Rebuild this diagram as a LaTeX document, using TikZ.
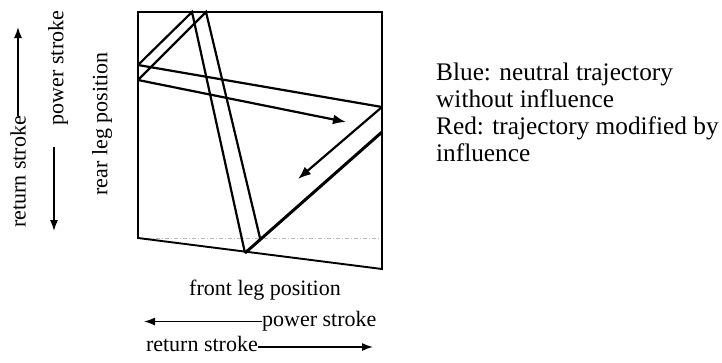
\documentclass[tikz,border=0pt]{standalone}
\usepackage{fontspec}
\setmainfont{Liberation Serif}
\usetikzlibrary{arrows.meta}
\tikzset{
  boxline/.style={line width=1.9pt},
  traj/.style={line width=2.2pt},
  trajthick/.style={line width=3pt},
  trajarrow/.style={line width=2.2pt,-{Latex[length=13pt,width=10pt]}},
  axisarrow/.style={line width=1.4pt,-{Latex[length=11pt,width=8pt]}},
  lbl/.style={inner sep=0pt,font=\fontsize{22}{24}\selectfont},
  legend/.style={inner sep=0pt,anchor=base west,font=\fontsize{25.3}{27}\selectfont},
}
\begin{document}
\begin{tikzpicture}[x=1pt,y=-1pt]
\useasboundingbox (0,0) rectangle (722,362);
% box corners
\coordinate (tl) at (138,12);
\coordinate (tr) at (382,12);
\coordinate (br) at (382,269);
\coordinate (bl) at (138,238);
\coordinate (dr) at (382,238);
% trajectory points
\coordinate (l1) at (138,65);
\coordinate (l2) at (138,80);
\coordinate (t1) at (192,12);
\coordinate (t2) at (206,12);
\coordinate (b1) at (245,253);
\coordinate (b2) at (260,238);
\coordinate (r1) at (382,107);
\coordinate (r2) at (382,132);
\coordinate (a1) at (346,122);
\coordinate (a2) at (298,179);
% faint dotted line
\draw[gray!55,line width=0.8pt,dash pattern=on 4pt off 2pt on 1pt off 2pt] (bl) -- (dr);
% box
\draw[boxline,line join=miter] (bl) -- (tl) -- (tr) -- (br) -- cycle;
% trajectories
\draw[traj] (l1) -- (t1) -- (b1);
\draw[traj] (l2) -- (t2) -- (b2);
\draw[traj] (l1) -- (r1);
\draw[trajarrow] (l2) -- (a1);
\draw[trajarrow] (r1) -- (a2);
\draw[trajthick] (b1) -- (r2);
% left labels
\node[lbl,rotate=90] (ret) at (18,172) {return stroke};
\node[lbl,rotate=90] (pow) at (58,68) {power stroke};
\node[lbl,rotate=90] (rear) at (102,124) {rear leg position};
\coordinate (retA) at (18,27);
\coordinate (powA) at (54,231);
\coordinate (powS) at (54,147);
\draw[axisarrow] (ret.east) -- (retA);
\draw[axisarrow] (powS) -- (powA);
% bottom labels
\node[lbl,anchor=base] (front) at (265,295) {front leg position};
\node[lbl,anchor=base west] (bpow) at (262,326) {power stroke};
\node[lbl,anchor=base east] (bret) at (258,351) {return stroke};
\coordinate (bpowA) at (144,321.5);
\coordinate (bretA) at (373,347);
\draw[axisarrow] (bpow.west |- bpowA) -- (bpowA);
\draw[axisarrow] (bret.east |- bretA) -- (bretA);
% legend
\node[legend] (lg1) at (436,80) {Blue: neutral trajectory};
\node[legend] (lg2) at (436,107) {without influence};
\node[legend] (lg3) at (436,134) {Red: trajectory modified by};
\node[legend] (lg4) at (436,161) {influence};
\end{tikzpicture}
\end{document}
